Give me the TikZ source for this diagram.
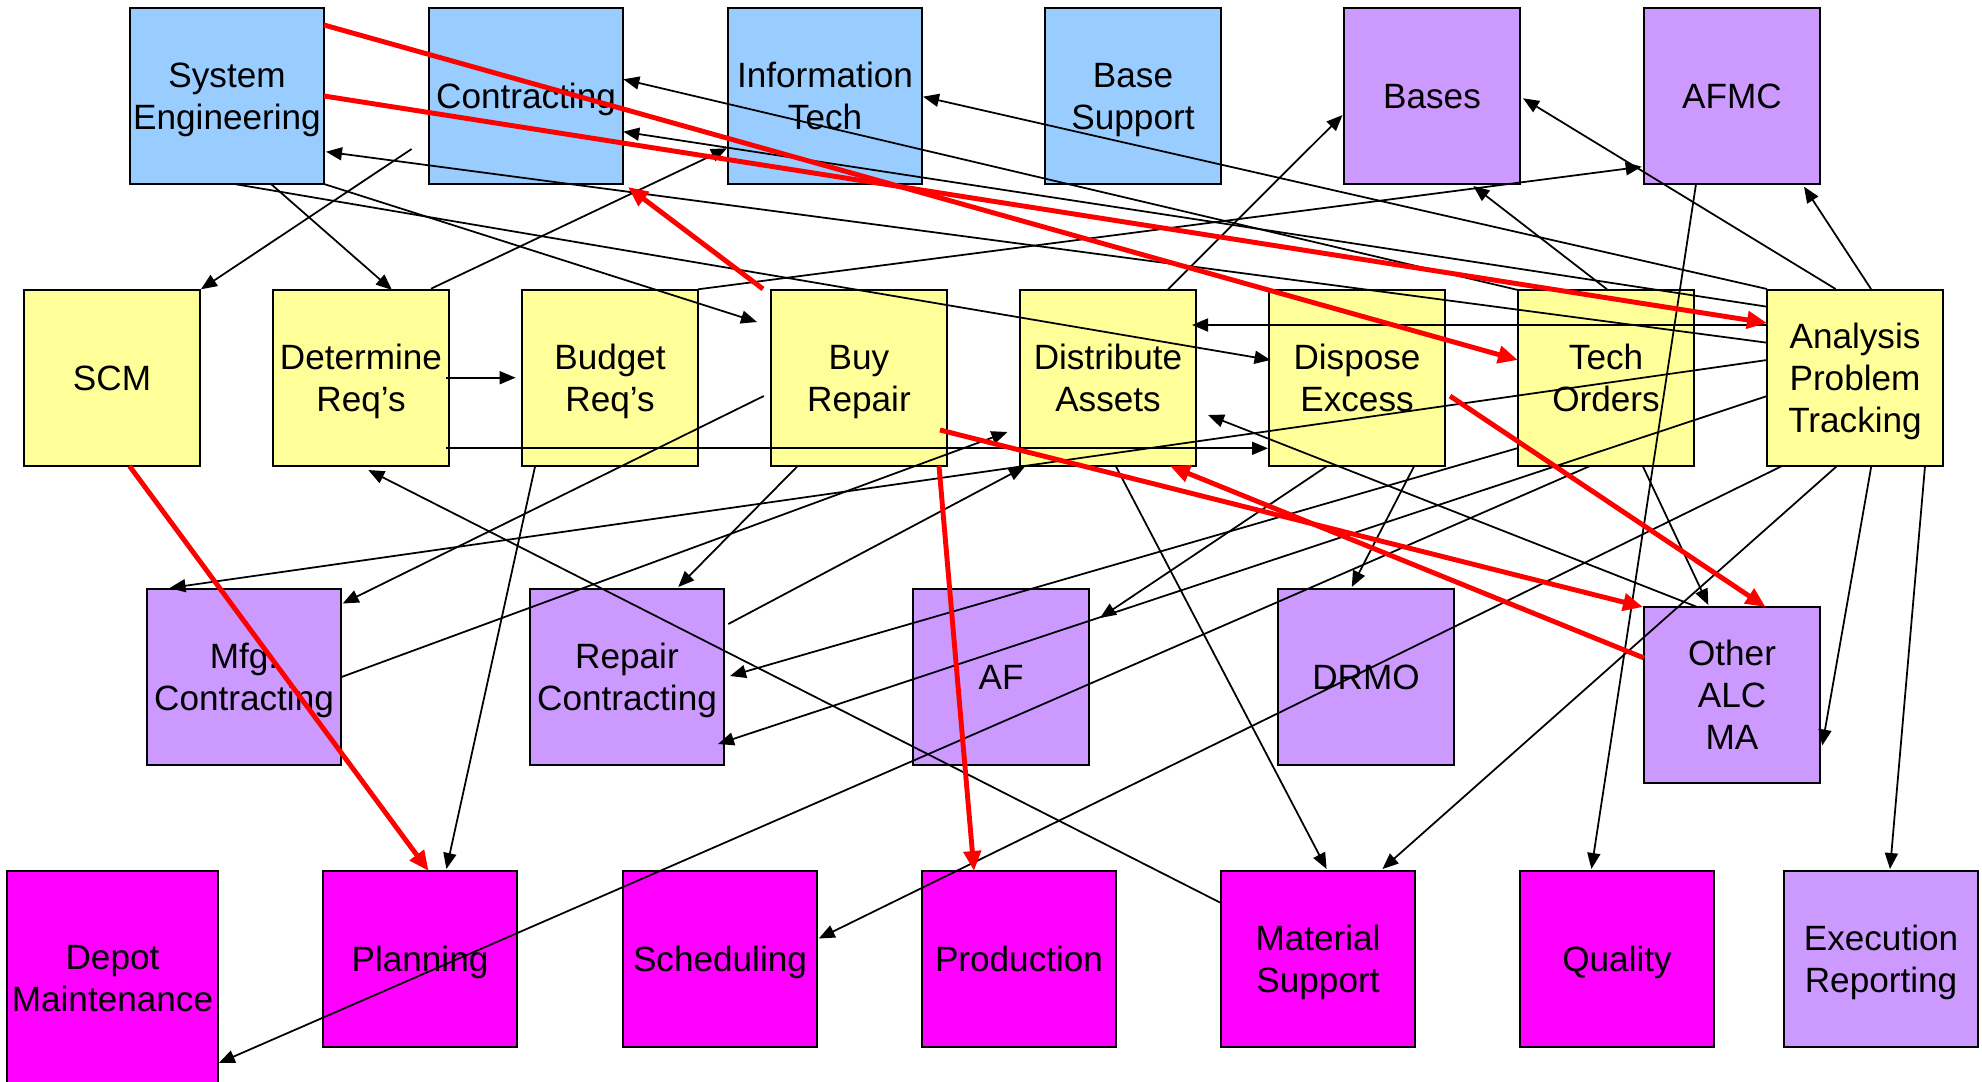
\documentclass[tikz,border=0pt]{standalone}
\usepackage{fontspec}
\setmainfont{Liberation Sans}
\usetikzlibrary{arrows.meta,calc}
\definecolor{skyfill}{HTML}{99CCFF}
\definecolor{lemonfill}{HTML}{FFFF99}
\definecolor{lilacfill}{HTML}{CC99FF}
\definecolor{magentafill}{HTML}{FF00FF}
\begin{document}
\begin{tikzpicture}[x=0.1mm, y=-0.1mm,
  box/.style={draw=black, line width=0.6pt, inner sep=0pt, outer sep=0pt,
    anchor=north west, align=center, font=\fontsize{10}{12}\selectfont,
    text depth=0pt, minimum height=17.6mm},
  wide/.style={minimum width=19.4mm},
  narrow/.style={minimum width=17.6mm},
  sky/.style={box, fill=skyfill},
  lemon/.style={box, fill=lemonfill},
  lilac/.style={box, fill=lilacfill},
  mag/.style={box, fill=magentafill},
  link/.style={draw=black, line width=0.5pt, -{Triangle[length=1.6mm,width=1.3mm]}},
  hot/.style={draw=red, line width=1.4pt, -{Triangle[length=2mm,width=1.7mm]}},
]
\clip (0,0) rectangle (1982,1081);
\fill[white] (0,0) rectangle (1982,1081);

% top row
\node[sky, wide]     (sys)   at (130,8)   {System\\Engineering};
\node[sky, wide]     (con)   at (429,8)   {Contracting};
\node[sky, wide]     (info)  at (728,8)   {Information\\Tech};
\node[sky, narrow]   (base)  at (1045,8)  {Base\\Support};
\node[lilac, narrow] (bases) at (1344,8)  {Bases};
\node[lilac, narrow] (afmc)  at (1644,8)  {AFMC};
% process row
\node[lemon, narrow] (scm)   at (24,290)   {SCM};
\node[lemon, narrow] (det)   at (273,290)  {Determine\\Req’s};
\node[lemon, narrow] (bud)   at (522,290)  {Budget\\Req’s};
\node[lemon, narrow] (buy)   at (771,290)  {Buy\\Repair};
\node[lemon, narrow] (dist)  at (1020,290) {Distribute\\Assets};
\node[lemon, narrow] (disp)  at (1269,290) {Dispose\\Excess};
\node[lemon, narrow] (tech)  at (1518,290) {Tech\\Orders};
\node[lemon, narrow] (apt)   at (1767,290) {Analysis\\Problem\\Tracking};
% third row
\node[lilac, wide]   (mfg)   at (147,589)  {Mfg.\\Contracting};
\node[lilac, wide]   (rep)   at (530,589)  {Repair\\Contracting};
\node[lilac, narrow] (af)    at (913,589)  {AF};
\node[lilac, narrow] (drmo)  at (1278,589) {DRMO};
\node[lilac, narrow] (other) at (1644,607) {Other\\ALC\\MA};
% bottom row
\node[mag, minimum width=21.1mm, minimum height=21.5mm] (depot) at (7,871) {Depot\\Maintenance};
\node[mag, wide]     (plan)  at (323,871)  {Planning};
\node[mag, wide]     (sched) at (623,871)  {Scheduling};
\node[mag, wide]     (prod)  at (922,871)  {Production};
\node[mag, wide]     (mat)   at (1221,871) {Material\\Support};
\node[mag, wide]     (qual)  at (1520,871) {Quality};
\node[lilac, wide]   (exec)  at (1784,871) {Execution\\Reporting};

\coordinate (scmfeed) at (411.6,149);

% black links
\draw[link] ($(apt.north west)+(0,-1)$)   -- ($(info.north west)+(195,88.7)$);
\draw[link] ($(tech.north west)+(0,0)$)   -- ($(con.north west)+(194.3,71.3)$);
\draw[link] ($(apt.north west)+(0,16.7)$) -- ($(con.north west)+(194.3,123.7)$);
\draw[link] ($(det.north west)+(158,-1.3)$) -- ($(info.north west)+(-1,140.3)$);
\draw[link] (scmfeed) -- ($(scm.north west)+(176.9,-0.7)$);
\draw[link] ($(sys.north west)+(141,176)$)  -- ($(det.north west)+(119,0)$);
\draw[link] ($(sys.north west)+(104.4,176)$) -- ($(disp.north west)+(1.5,70)$);
\draw[link] ($(sys.north west)+(194,176)$)  -- ($(buy.north west)+(-14,32)$);
\draw[link] ($(apt.north west)+(0,52.7)$)   -- ($(sys.north west)+(196,143.7)$);
\draw[link] ($(bud.north west)+(176,-0.7)$) -- ($(afmc.north west)+(-2.3,158.7)$);
\draw[link] ($(det.north west)+(173.4,87.7)$) -- ($(bud.north west)+(-6.4,87.7)$);
\draw[link] ($(det.north west)+(173,158.3)$)  -- ($(disp.north west)+(-1,158.3)$);
\draw[link] ($(apt.north west)+(0,35)$)     -- ($(dist.north west)+(172,35)$);
\draw[link] ($(dist.north west)+(148,-0.7)$) -- ($(bases.north west)+(-1.5,107)$);
\draw[link] ($(tech.north west)+(89,-0.7)$)  -- ($(bases.north west)+(129.3,178)$);
\draw[link] ($(apt.north west)+(68.6,-1)$)   -- ($(bases.north west)+(179,90.3)$);
\draw[link] ($(apt.north west)+(104,-1)$)    -- ($(afmc.north west)+(160,178.7)$);
\draw[link] ($(afmc.north west)+(52,176)$)   -- ($(qual.north west)+(71.4,-2)$);
\draw[link] ($(buy.north west)+(26.7,176)$)  -- ($(rep.north west)+(148.3,-2)$);
\draw[link] ($(buy.north west)+(-7.2,106)$)  -- ($(mfg.north west)+(195.7,14.5)$);
\draw[link] ($(rep.north west)+(198.3,35)$)  -- ($(dist.north west)+(4.8,176.7)$);
\draw[link] ($(mfg.north west)+(194.5,88)$)  -- ($(dist.north west)+(-12.5,142)$);
\draw[link] ($(apt.north west)+(0,70)$)      -- ($(mfg.north west)+(22.6,-1)$);
\draw[link] ($(apt.north west)+(0,106)$)     -- ($(rep.north west)+(188,155)$);
\draw[link] ($(tech.north west)+(0,158)$)    -- ($(rep.north west)+(200,87)$);
\draw[link] ($(tech.north west)+(72,176)$)   -- ($(depot.north west)+(211.8,192)$);
\draw[link] ($(apt.north west)+(15,176)$)    -- ($(sched.north west)+(195.75,67.5)$);
\draw[link] ($(dist.north west)+(95.7,176)$) -- ($(mat.north west)+(105.6,-2)$);
\draw[link] ($(apt.north west)+(70,176)$)    -- ($(mat.north west)+(161.4,-2)$);
\draw[link] ($(tech.north west)+(124.7,176)$) -- ($(other.north west)+(64.3,-2)$);
\draw[link] ($(apt.north west)+(104.3,176)$) -- ($(other.north west)+(178.2,138.5)$);
\draw[link] ($(apt.north west)+(158,176)$)   -- ($(exec.north west)+(106,-2)$);
\draw[link] ($(disp.north west)+(145.2,176)$) -- ($(drmo.north west)+(73.7,-2)$);
\draw[link] ($(disp.north west)+(58.2,176)$) -- ($(af.north west)+(187,29)$);
\draw[link] ($(other.north west)+(53.2,0)$)  -- ($(dist.north west)+(188,125)$);
\draw[link] ($(mat.north west)+(0,32)$)      -- ($(det.north west)+(95.3,180)$);
\draw[link] ($(bud.north west)+(13,176.7)$)  -- ($(plan.north west)+(123.4,-2)$);

% red links
\draw[hot] ($(sys.north west)+(194,17)$)   -- ($(tech.north west)+(0,70)$);
\draw[hot] ($(sys.north west)+(194,88)$)   -- ($(apt.north west)+(0,33)$);
\draw[hot] ($(buy.north west)+(-8,-1)$)    -- ($(con.north west)+(199,179)$);
\draw[hot] ($(buy.north west)+(169,140)$)  -- ($(other.north west)+(-1,0)$);
\draw[hot] ($(other.north west)+(0,51)$)   -- ($(dist.north west)+(150,176)$);
\draw[hot] ($(buy.north west)+(168,176)$)  -- ($(prod.north west)+(52,0)$);
\draw[hot] ($(scm.north west)+(105.5,176)$) -- ($(plan.north west)+(105.6,0)$);
\draw[hot] ($(disp.north west)+(181,106)$) -- ($(other.north west)+(121.6,0)$);
\end{tikzpicture}
\end{document}
